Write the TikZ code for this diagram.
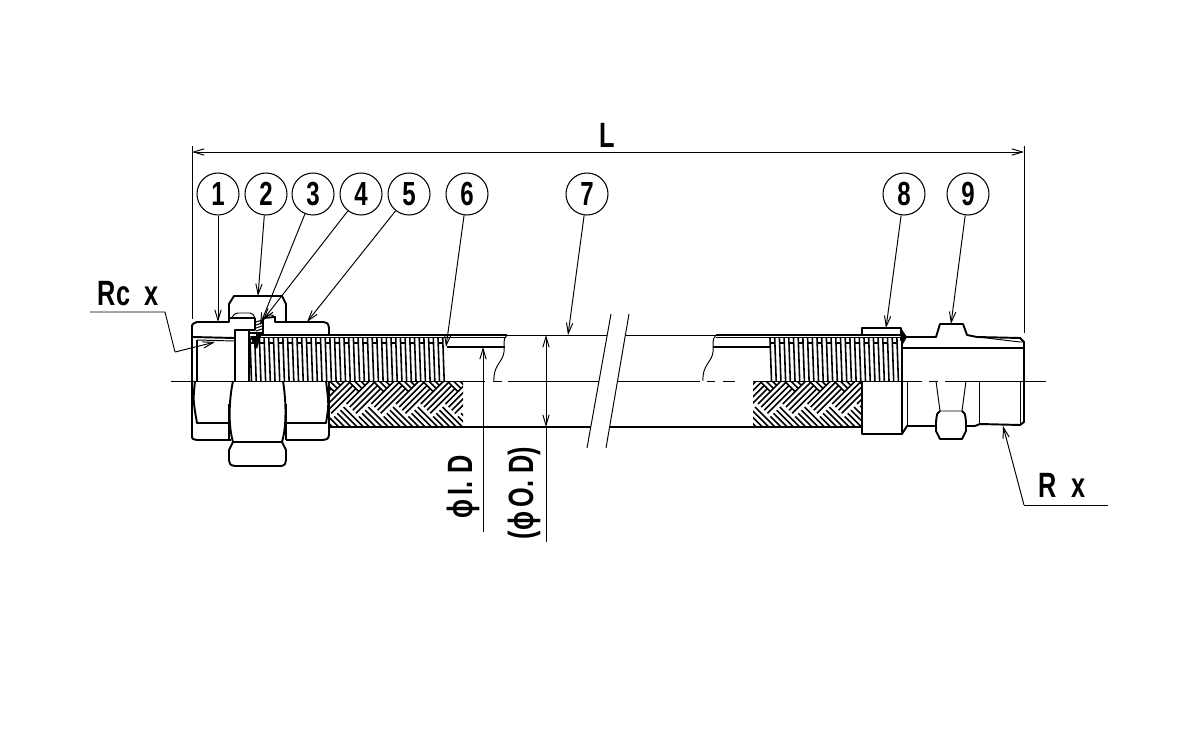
\documentclass[tikz,border=0pt]{standalone}
\usepackage{fontspec}
\setmainfont{Liberation Sans}
\usepackage{xcolor}
\usetikzlibrary{arrows.meta}

% narrow drafting letters
\newcommand{\narrowtext}[1]{\scalebox{.72}[1]{\bfseries #1}}

% hose corrugation between two x positions
\newcommand{\corrugation}[3]{%
  \foreach \x in {#1,#2,...,#3} {
    \draw[rib] (\x,338) -- ({\x+1.5},381);
    \draw[rib] ({\x+4.7},338) -- ({\x+6.2},381);
    \draw[hatch] (\x,343) -- ({\x+4.7},343);
  }
}

% herringbone braid, clipped to a rectangle
\newcommand{\braid}[2]{%
  \begin{scope}
    \clip (#1,381) rectangle (#2,427);
    \begin{scope}[shift={({(#1+#2)/2},404)},rotate=45]
      \foreach \i in {-8,...,8} {
        \foreach \j in {-5,...,5} {
          \pgfmathsetmacro{\px}{(\i+2*\j)*17.5}
          \pgfmathsetmacro{\py}{(\i-2*\j)*17.5}
          \foreach \k in {0,4.4,...,14} {
            \draw[rib] (\px,{\py+\k}) -- ({\px+35},{\py+\k});
            \draw[rib] ({\px+35+\k},{\py-17.5}) -- ({\px+35+\k},{\py+17.5});
          }
        }
      }
    \end{scope}
  \end{scope}
}

\begin{document}
\begin{tikzpicture}[
    x=0.02cm, y=-0.02cm,
    outline/.style={line width=1.1pt, line join=round},
    hatch/.style={line width=0.6pt},
    rib/.style={line width=0.9pt},
    centreline/.style={line width=0.55pt},
    leader/.style={line width=0.55pt, -{Straight Barb[length=6pt,width=3.6pt]}},
    dimline/.style={line width=0.55pt, {Straight Barb[length=6pt,width=3.6pt]}-{Straight Barb[length=6pt,width=3.6pt]}},
    plainline/.style={line width=0.55pt},
    balloon/.style={circle, draw, line width=0.6pt, minimum size=0.84cm, inner sep=0pt, font=\fontsize{19}{19}\selectfont},
    dimtext/.style={inner sep=0pt, font=\fontsize{20}{20}\selectfont}
  ]
    \useasboundingbox (0,0) rectangle (1200,750);

    % Braid and corrugation
    \braid{329}{463}
    \braid{753}{862}
    \corrugation{250}{259.4}{442}
    \corrugation{770}{779.4}{895}

    % Hose
    \draw[outline] (256,335) -- (507,335);
    \draw[plainline] (256,337.5) -- (505,337.5);
    \draw[outline] (447,347) -- (505,347);
    \draw[plainline] (507,335) -- (607,335);
    \draw[plainline] (625,335) -- (716,335);
    \draw[outline] (716,335) -- (901,335);
    \draw[plainline] (716,337.5) -- (901,337.5);
    \draw[outline] (713,347) -- (770,347);
    \draw[outline] (329,427) -- (591,427);
    \draw[outline] (610,427) -- (862,427);
    \draw[plainline] (507,335) .. controls (502,340) and (505,345) .. (504,352) .. controls (503,362) and (493,365) .. (494,381);
    \draw[plainline] (716,335) .. controls (711,340) and (714,345) .. (713,352) .. controls (712,362) and (702,365) .. (703,381);

    % Break marks
    \draw[plainline] (611,314) -- (587,448);
    \draw[plainline] (629,314) -- (606,448);

    % Centre line
    \draw[centreline] (171,381) -- (485,381);
    \draw[centreline] (493,381) -- (502,381);
    \draw[centreline] (508,381) -- (599,381);
    \draw[centreline] (617,381) -- (700,381);
    \draw[centreline] (707,381) -- (715,381);
    \draw[centreline] (723,381) -- (735,381);
    \draw[centreline] (753,381) -- (922,381);
    \draw[centreline] (929,381) -- (938,381);
    \draw[centreline] (945,381) -- (1046,381);

    % Union, upper half
    \draw[outline] (192,381) -- (192,328) .. controls (192,324) .. (197,322) -- (229,322) -- (229,304) -- (234,296) -- (282,296) -- (286,304) -- (286,322);
    \draw[outline] (263,334) -- (263,318) -- (275,317) -- (275,322) -- (323,322) .. controls (328,323) .. (329,328) -- (329,335);
    \draw[outline] (229,318) -- (255,318);
    \draw[plainline] (232,318) .. controls (234,314) .. (238,313) -- (250,313) .. controls (253,314) .. (255,318);
    \draw[plainline] (265,317) .. controls (268,314) and (272,314) .. (275,317);
    \draw[outline] (235,381) -- (235,330) -- (249,330) -- (249,381);
    \draw[outline] (249,330) -- (255,330) -- (255,318);
    \draw[outline] (250,333) -- (263,333);
    \draw[outline] (193,337) -- (234,338);
    \draw[plainline] (197,340) -- (234,341);
    \draw[outline] (197,340) -- (197,381);
    \fill (250,336) -- (261,336) -- (257,349) -- (252,341) -- cycle;
    \foreach \y in {320,323,...,329} {
      \draw[hatch] (256,{\y+2}) -- (262,\y);
    }
    \draw[plainline] (262,318) -- (262,330);

    % Union, lower half
    \draw[outline] (192,381) -- (192,435) .. controls (192,439) .. (197,440) -- (231,440);
    \draw[outline] (195,381) .. controls (193,400) .. (197,423) -- (229,423);
    \draw[outline] (233,381) .. controls (229,400) and (228,425) .. (233,442) -- (282,442) .. controls (287,425) and (286,400) .. (283,381);
    \draw[outline] (233,442) -- (229,450) -- (229,460) .. controls (230,465) .. (235,466) -- (281,466) .. controls (285,465) .. (286,460) -- (286,450) -- (282,442);
    \draw[outline] (229,404) -- (229,440);
    \draw[outline] (286,404) -- (286,440);
    \draw[outline] (286,440) -- (323,440) .. controls (328,439) .. (329,435) -- (329,381);
    \draw[outline] (286,423) -- (326,423) .. controls (329,405) .. (326,381);

    % Ferrule
    \draw[outline] (862,381) -- (862,434) -- (902,434) -- (902,335);
    \draw[outline] (862,335) -- (862,328) -- (901,328) -- (901,335);
    \fill (901,328) -- (907,337) -- (903,344) -- (900,340) -- cycle;

    % Nipple
    \draw[outline] (905,337) -- (936,337) -- (940,324) -- (963,324) -- (967,335) -- (977,337) -- (1020,338) -- (1024,342) -- (1024,422) -- (1020,425) -- (980,424) -- (975,426) -- (966,426);
    \draw[plainline] (978,337) -- (1020,342) -- (1024,342);
    \draw[outline] (902,348) -- (1024,348);
    \draw[outline] (902,434) -- (907,426) -- (936,426);
    \draw[plainline] (907,381) -- (907,426);
    \draw[plainline] (936,381) -- (940,411) -- (962,411) -- (966,381);
    \draw[outline] (940,411) .. controls (937,413) .. (936,422) -- (936,431) -- (940,439) -- (962,439) -- (966,431) -- (966,422) .. controls (965,413) .. (962,411);
    \draw[plainline] (979,381) -- (979,424);
    \draw[plainline] (1020,381) -- (1020,425);

    % Balloons
    \node[balloon] (b1) at (218,194) {\narrowtext{1}};
    \node[balloon] (b2) at (266,194) {\narrowtext{2}};
    \node[balloon] (b3) at (313,194) {\narrowtext{3}};
    \node[balloon] (b4) at (361,194) {\narrowtext{4}};
    \node[balloon] (b5) at (409,194) {\narrowtext{5}};
    \node[balloon] (b6) at (467,194) {\narrowtext{6}};
    \node[balloon] (b7) at (587,194) {\narrowtext{7}};
    \node[balloon] (b8) at (904,194) {\narrowtext{8}};
    \node[balloon] (b9) at (968,194) {\narrowtext{9}};

    \coordinate (t1) at (218,322);
    \coordinate (t2) at (258,296);
    \coordinate (t3) at (260,325);
    \coordinate (t4) at (263,320);
    \coordinate (t5) at (307,322);
    \coordinate (t6) at (446,347);
    \coordinate (t7) at (568,335);
    \coordinate (t8) at (886,328);
    \coordinate (t9) at (951,324);

    \draw[leader] (b1) -- (t1);
    \draw[leader] (b2) -- (t2);
    \draw[leader] (b3) -- (t3);
    \draw[leader] (b4) -- (t4);
    \draw[leader] (b5) -- (t5);
    \draw[leader] (b6) -- (t6);
    \draw[leader] (b7) -- (t7);
    \draw[leader] (b8) -- (t8);
    \draw[leader] (b9) -- (t9);

    % Overall length
    \coordinate (lenA) at (192,152);
    \coordinate (lenB) at (1024,152);
    \coordinate (lenAtop) at (192,146);
    \coordinate (lenAend) at (192,319);
    \coordinate (lenBtop) at (1024,146);
    \coordinate (lenBend) at (1024,333);
    \draw[plainline] (lenAtop) -- (lenAend);
    \draw[plainline] (lenBtop) -- (lenBend);
    \draw[dimline] (lenA) -- (lenB);
    \node[dimtext] (lenlabel) at (607,135) {\narrowtext{L}};

    % Thread leaders
    \node[dimtext] (rclabel) at (128,294) {\narrowtext{Rc\ \ x}};
    \coordinate (rcA) at (90,312);
    \coordinate (rcB) at (165,312);
    \coordinate (rcC) at (175,352);
    \coordinate (rcD) at (215,342);
    \draw[plainline] (rcA) -- (rcB) -- (rcC);
    \draw[leader] (rcC) -- (rcD);

    \node[dimtext] (rlabel) at (1062,485) {\narrowtext{R\ \ x}};
    \coordinate (rA) at (1108,505);
    \coordinate (rB) at (1024,505);
    \coordinate (rC) at (1003,426);
    \draw[plainline] (rA) -- (rB);
    \draw[leader] (rB) -- (rC);

    % Diameters
    \coordinate (idA) at (483,532);
    \coordinate (idB) at (483,347);
    \draw[leader] (idA) -- (idB);
    \node[dimtext, rotate=90] (idlabel) at (463,487) {\narrowtext{ϕ\,I.\ D}};

    \coordinate (odA) at (546,335);
    \coordinate (odB) at (546,427);
    \coordinate (odC) at (546,542);
    \draw[dimline] (odA) -- (odB);
    \draw[plainline] (odB) -- (odC);
    \node[dimtext, rotate=90] (odlabel) at (524,493) {\narrowtext{(ϕ\,O.\ D)}};
  \end{tikzpicture}
\end{document}
